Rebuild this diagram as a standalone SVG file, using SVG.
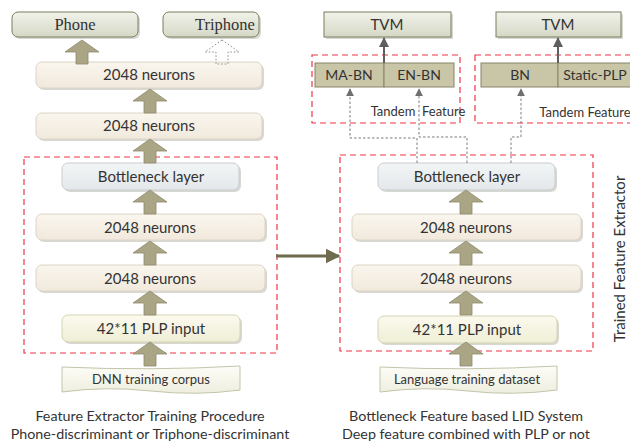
<svg xmlns="http://www.w3.org/2000/svg" width="630" height="441" viewBox="0 0 630 441">
  <defs>
    <linearGradient id="gOut" x1="0" y1="0" x2="0" y2="1">
      <stop offset="0" stop-color="#f1f2ea"/>
      <stop offset="1" stop-color="#d6d8c6"/>
    </linearGradient>
    <linearGradient id="gNeu" x1="0" y1="0" x2="0" y2="1">
      <stop offset="0" stop-color="#faf6ee"/>
      <stop offset="1" stop-color="#f1e9dc"/>
    </linearGradient>
    <linearGradient id="gBot" x1="0" y1="0" x2="0" y2="1">
      <stop offset="0" stop-color="#f2f5f6"/>
      <stop offset="1" stop-color="#e3e8ea"/>
    </linearGradient>
    <linearGradient id="gPlp" x1="0" y1="0" x2="0" y2="1">
      <stop offset="0" stop-color="#fbfaee"/>
      <stop offset="1" stop-color="#efeed6"/>
    </linearGradient>
    <linearGradient id="gDoc" x1="0" y1="0" x2="0" y2="1">
      <stop offset="0" stop-color="#fdfdf8"/>
      <stop offset="1" stop-color="#eeeedf"/>
    </linearGradient>
    <!-- block arrow pointing up, tip at (0,0), base at y=24 -->
    <path id="blk" d="M0,0 L17,12 L6,12 L6,24 L-6,24 L-6,12 L-17,12 Z"/>
    <marker id="ah" viewBox="0 0 10 10" refX="9" refY="5" markerWidth="8" markerHeight="8" orient="auto">
      <path d="M0,0 L10,5 L0,10 Z" fill="#6f6f6f"/>
    </marker>
    <marker id="ahBig" viewBox="0 0 10 10" refX="9" refY="5" markerWidth="5" markerHeight="5" orient="auto">
      <path d="M0,0 L10,5 L0,10 Z" fill="#5f5f5f"/>
    </marker>
    <marker id="ahOl" viewBox="0 0 10 10" refX="9" refY="5" markerWidth="5" markerHeight="5" orient="auto">
      <path d="M0,0 L10,5 L0,10 Z" fill="#6e6c4c"/>
    </marker>
  </defs>
  <style>
    text { font-family: Lato, "Liberation Sans", sans-serif; fill: #333; text-anchor: middle; }
    .serif { font-family: "Liberation Serif", serif; font-size: 16.5px; fill: #333; }
    .t15 { font-size: 15px; }
    .t14 { font-size: 14px; }
    .t13 { font-size: 13px; }
    .cap { font-size: 14.3px; fill: #333; }
    .shadow { fill: #c8c8c0; opacity: 0.7; }
    .out { fill: url(#gOut); stroke: #7d7d60; stroke-width: 1; }
    .neu { fill: url(#gNeu); stroke: #dcd4c4; stroke-width: 1; }
    .bot { fill: url(#gBot); stroke: #c9cdd0; stroke-width: 1; }
    .plp { fill: url(#gPlp); stroke: #d6d4b4; stroke-width: 1; }
    .doc { fill: url(#gDoc); stroke: #c4c4aa; stroke-width: 1; }
    .feat { fill: #c9c6a7; stroke: #86846a; stroke-width: 1; }
    .red { fill: none; stroke: #ee3444; stroke-width: 1.2; stroke-dasharray: 6 4; }
    .barrow { fill: #aaa685; stroke: #8d896b; stroke-width: 0.8; }
    .dot { fill: none; stroke: #7a7a7a; stroke-width: 1; stroke-dasharray: 2.5 2; }
  </style>

  <!-- region frames -->
  <g id="frames">
    <rect class="red" x="24" y="157" width="253" height="196"/>
    <rect class="red" x="340" y="155" width="253" height="196"/>
    <rect class="red" x="312" y="55" width="148" height="68"/>
    <rect class="red" x="475" y="55" width="160" height="68"/>
  </g>

  <!-- left column: training network -->
  <g id="phone">
    <rect class="shadow" x="14" y="14" width="126" height="25" rx="6"/>
    <rect class="out" x="12" y="12" width="126" height="25" rx="6"/>
    <text class="serif" x="75" y="30">Phone</text>
  </g>
  <g id="triphone">
    <rect class="shadow" x="165" y="14" width="96" height="25" rx="6"/>
    <rect class="out" x="163" y="12" width="96" height="25" rx="6"/>
    <text class="serif" x="225" y="30">Triphone</text>
  </g>
  <g id="l-hidden4">
    <rect class="shadow" x="38" y="64" width="226" height="26" rx="6"/>
    <rect class="neu" x="36" y="62" width="226" height="26" rx="6"/>
    <text class="t15" x="149" y="80">2048 neurons</text>
  </g>
  <g id="l-hidden3">
    <rect class="shadow" x="38" y="115" width="226" height="26" rx="6"/>
    <rect class="neu" x="36" y="113" width="226" height="26" rx="6"/>
    <text class="t15" x="149" y="131">2048 neurons</text>
  </g>
  <g id="l-bottleneck">
    <rect class="shadow" x="64" y="165" width="177" height="27" rx="6"/>
    <rect class="bot" x="62" y="163" width="177" height="27" rx="6"/>
    <text class="t15" x="151" y="182">Bottleneck layer</text>
  </g>
  <g id="l-hidden2">
    <rect class="shadow" x="38" y="216" width="229" height="26" rx="6"/>
    <rect class="neu" x="36" y="214" width="229" height="26" rx="6"/>
    <text class="t15" x="150" y="233">2048 neurons</text>
  </g>
  <g id="l-hidden1">
    <rect class="shadow" x="38" y="267" width="229" height="26" rx="6"/>
    <rect class="neu" x="36" y="265" width="229" height="26" rx="6"/>
    <text class="t15" x="150" y="284">2048 neurons</text>
  </g>
  <g id="l-input">
    <rect class="shadow" x="64" y="317" width="178" height="27" rx="6"/>
    <rect class="plp" x="62" y="315" width="178" height="27" rx="6"/>
    <text class="t15" x="151" y="334">42*11 PLP input</text>
  </g>
  <g id="l-corpus">
    <path class="doc" d="M62,367 Q151,371 240,366 L240,390 Q196,396 151,391 Q106,386 62,392 Z"/>
    <text class="t13" x="151" y="384">DNN training corpus</text>
  </g>

  <!-- right column: LID system -->
  <g id="tvm1">
    <rect class="shadow" x="326" y="14" width="127" height="25"/>
    <rect class="out" x="324" y="12" width="127" height="25"/>
    <text class="t15" x="387" y="30">TVM</text>
  </g>
  <g id="tvm2">
    <rect class="shadow" x="498" y="14" width="125" height="25"/>
    <rect class="out" x="496" y="12" width="125" height="25"/>
    <text class="t15" x="558" y="30">TVM</text>
  </g>
  <g id="ma-bn">
    <rect class="feat" x="315" y="63" width="69" height="24"/>
    <text class="t14" x="349" y="80">MA-BN</text>
  </g>
  <g id="en-bn">
    <rect class="feat" x="384" y="63" width="70" height="24"/>
    <text class="t14" x="419" y="80">EN-BN</text>
  </g>
  <g id="bn">
    <rect class="feat" x="481" y="63" width="77" height="24"/>
    <text class="t14" x="520" y="80">BN</text>
  </g>
  <g id="static-plp">
    <rect class="feat" x="558" y="63" width="76" height="24"/>
    <text class="t14" x="595" y="80">Static-PLP</text>
  </g>
  <text class="t13" x="418" y="116" xml:space="preserve">Tandem  Feature</text>
  <text class="t13" x="585" y="117">Tandem Feature</text>

  <g id="r-bottleneck">
    <rect class="shadow" x="380" y="165" width="177" height="27" rx="6"/>
    <rect class="bot" x="378" y="163" width="177" height="27" rx="6"/>
    <text class="t15" x="467" y="182">Bottleneck layer</text>
  </g>
  <g id="r-hidden2">
    <rect class="shadow" x="354" y="216" width="229" height="26" rx="6"/>
    <rect class="neu" x="352" y="214" width="229" height="26" rx="6"/>
    <text class="t15" x="466" y="233">2048 neurons</text>
  </g>
  <g id="r-hidden1">
    <rect class="shadow" x="354" y="267" width="229" height="26" rx="6"/>
    <rect class="neu" x="352" y="265" width="229" height="26" rx="6"/>
    <text class="t15" x="466" y="284">2048 neurons</text>
  </g>
  <g id="r-input">
    <rect class="shadow" x="380" y="318" width="179" height="27" rx="6"/>
    <rect class="plp" x="378" y="316" width="179" height="27" rx="6"/>
    <text class="t15" x="467" y="335">42*11 PLP input</text>
  </g>
  <g id="r-dataset">
    <path class="doc" d="M380,367 Q468,371 557,366 L557,390 Q513,396 468,391 Q424,386 380,392 Z"/>
    <text class="t13" x="467" y="384">Language training dataset</text>
  </g>

  <text class="t15" transform="translate(625,259) rotate(-90)">Trained Feature Extractor</text>

  <!-- captions -->
  <text class="cap" x="150" y="421">Feature Extractor Training Procedure</text>
  <text class="cap" x="150" y="439">Phone-discriminant or Triphone-discriminant</text>
  <text class="cap" x="466" y="421">Bottleneck Feature based LID System</text>
  <text class="cap" x="466" y="439">Deep feature combined with PLP or not</text>

  <!-- connectors -->
  <g id="connectors">
    <use href="#blk" class="barrow" x="82" y="40"/>
    <use href="#blk" fill="none" stroke="#8a8a8a" stroke-width="1" stroke-dasharray="1.5 2" x="222" y="40"/>
    <use href="#blk" class="barrow" x="150" y="89"/>
    <use href="#blk" class="barrow" x="150" y="139"/>
    <use href="#blk" class="barrow" x="150" y="190"/>
    <use href="#blk" class="barrow" x="150" y="241"/>
    <use href="#blk" class="barrow" x="150" y="291"/>
    <use href="#blk" class="barrow" x="150" y="342"/>
    <use href="#blk" class="barrow" x="466" y="190"/>
    <use href="#blk" class="barrow" x="466" y="241"/>
    <use href="#blk" class="barrow" x="466" y="291"/>
    <use href="#blk" class="barrow" x="466" y="342"/>

    <line x1="276" y1="256" x2="339" y2="256" stroke="#6e6c4c" stroke-width="3" marker-end="url(#ahOl)"/>

    <line x1="384" y1="63" x2="384" y2="38" stroke="#5f5f5f" stroke-width="2" marker-end="url(#ahBig)"/>
    <line x1="558" y1="63" x2="558" y2="38" stroke="#5f5f5f" stroke-width="2" marker-end="url(#ahBig)"/>

    <polyline class="dot" points="417,163 417,138 350,138 350,89" marker-end="url(#ah)"/>
    <polyline class="dot" points="467,163 467,137 419,137 419,89" marker-end="url(#ah)"/>
    <polyline class="dot" points="511,163 511,137 521,137 521,89" marker-end="url(#ah)"/>
  </g>
</svg>
